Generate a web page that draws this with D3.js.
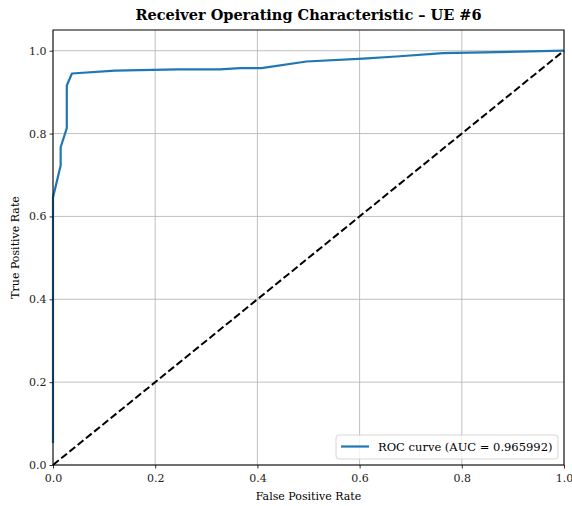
<!DOCTYPE html>
<html><head><meta charset="utf-8">
<script src="https://cdn.jsdelivr.net/npm/d3@7"></script>
<style>body{margin:0;background:#fff}svg{display:block}text{font-family:"DejaVu Serif",serif;}</style>
</head><body><svg id="c" width="572" height="506"></svg>
<script>
const fpr = [0, 0, 0.015, 0.015, 0.027, 0.027, 0.037, 0.121, 0.245, 0.327, 0.366, 0.408, 0.496, 0.607, 0.672, 0.763, 1.0];
const tpr = [0.053, 0.646, 0.723, 0.767, 0.813, 0.916, 0.945, 0.952, 0.955, 0.955, 0.958, 0.958, 0.974, 0.981, 0.986, 0.994, 1.0];
const xTicks = [0, 0.2, 0.4, 0.6, 0.8, 1.0];
const yTicks = [0, 0.2, 0.4, 0.6, 0.8, 1.0];
const aucLabel = "ROC curve (AUC = 0.965992)";
const title = "Receiver Operating Characteristic \u2013 UE #6";

const svg = d3.select("#c");
const L = 53, R = 564, T = 30, B = 465;
const x = d3.scaleLinear().domain([0, 1]).range([L, R]);
const y = d3.scaleLinear().domain([0, 1.05]).range([B, T]);

// grid
svg.append("g").selectAll("line").data(xTicks).join("line")
  .attr("x1", d => x(d)).attr("x2", d => x(d)).attr("y1", T).attr("y2", B)
  .attr("stroke", "#b0b0b0").attr("stroke-width", 0.8);
svg.append("g").selectAll("line").data(yTicks).join("line")
  .attr("y1", d => y(d)).attr("y2", d => y(d)).attr("x1", L).attr("x2", R)
  .attr("stroke", "#b0b0b0").attr("stroke-width", 0.8);

// diagonal
svg.append("line").attr("x1", x(0)).attr("y1", y(0)).attr("x2", x(1)).attr("y2", y(1))
  .attr("stroke", "#000").attr("stroke-width", 2).attr("stroke-dasharray", "7.4,3.2");

// ROC curve
const line = d3.line().x((d, i) => x(fpr[i])).y((d, i) => y(tpr[i]));
svg.append("path").datum(fpr).attr("d", line).attr("fill", "none")
  .attr("stroke", "#1f77b4").attr("stroke-width", 2.2).attr("stroke-linejoin", "round");

// axes
const xa = svg.append("g").attr("transform", `translate(0,${B})`)
  .call(d3.axisBottom(x).tickValues(xTicks).tickFormat(d3.format(".1f")).tickSizeOuter(0).tickSize(3.5));
const ya = svg.append("g").attr("transform", `translate(${L},0)`)
  .call(d3.axisLeft(y).tickValues(yTicks).tickFormat(d3.format(".1f")).tickSizeOuter(0).tickSize(3.5));
[xa, ya].forEach(a => {
  a.select(".domain").remove();
  a.selectAll("text").attr("font-size", 11).attr("fill", "#222").attr("font-family", '"DejaVu Serif",serif');
  a.selectAll("line").attr("stroke", "#000").attr("stroke-width", 0.8);
});
xa.selectAll("text").attr("dy", "0.95em");

// spines
svg.append("rect").attr("x", L).attr("y", T).attr("width", R - L).attr("height", B - T)
  .attr("fill", "none").attr("stroke", "#000").attr("stroke-width", 1);

// title & labels
svg.append("text").attr("x", (L + R) / 2).attr("y", 20).attr("text-anchor", "middle")
  .attr("font-size", 14.5).attr("font-weight", "bold").text(title);
svg.append("text").attr("x", (L + R) / 2).attr("y", 500).attr("text-anchor", "middle")
  .attr("font-size", 11).text("False Positive Rate");
svg.append("text").attr("transform", `translate(19,${(T + B) / 2}) rotate(-90)`).attr("text-anchor", "middle")
  .attr("font-size", 11).text("True Positive Rate");

// legend
const lg = svg.append("g");
lg.append("rect").attr("x", 336).attr("y", 435).attr("width", 222).attr("height", 24).attr("rx", 3)
  .attr("fill", "#fff").attr("fill-opacity", 0.8).attr("stroke", "#ccc").attr("stroke-width", 0.8);
lg.append("line").attr("x1", 341).attr("x2", 369).attr("y1", 446.5).attr("y2", 446.5)
  .attr("stroke", "#1f77b4").attr("stroke-width", 2.2);
lg.append("text").attr("x", 378).attr("y", 451).attr("font-size", 11.5).text(aucLabel);
</script></body></html>
